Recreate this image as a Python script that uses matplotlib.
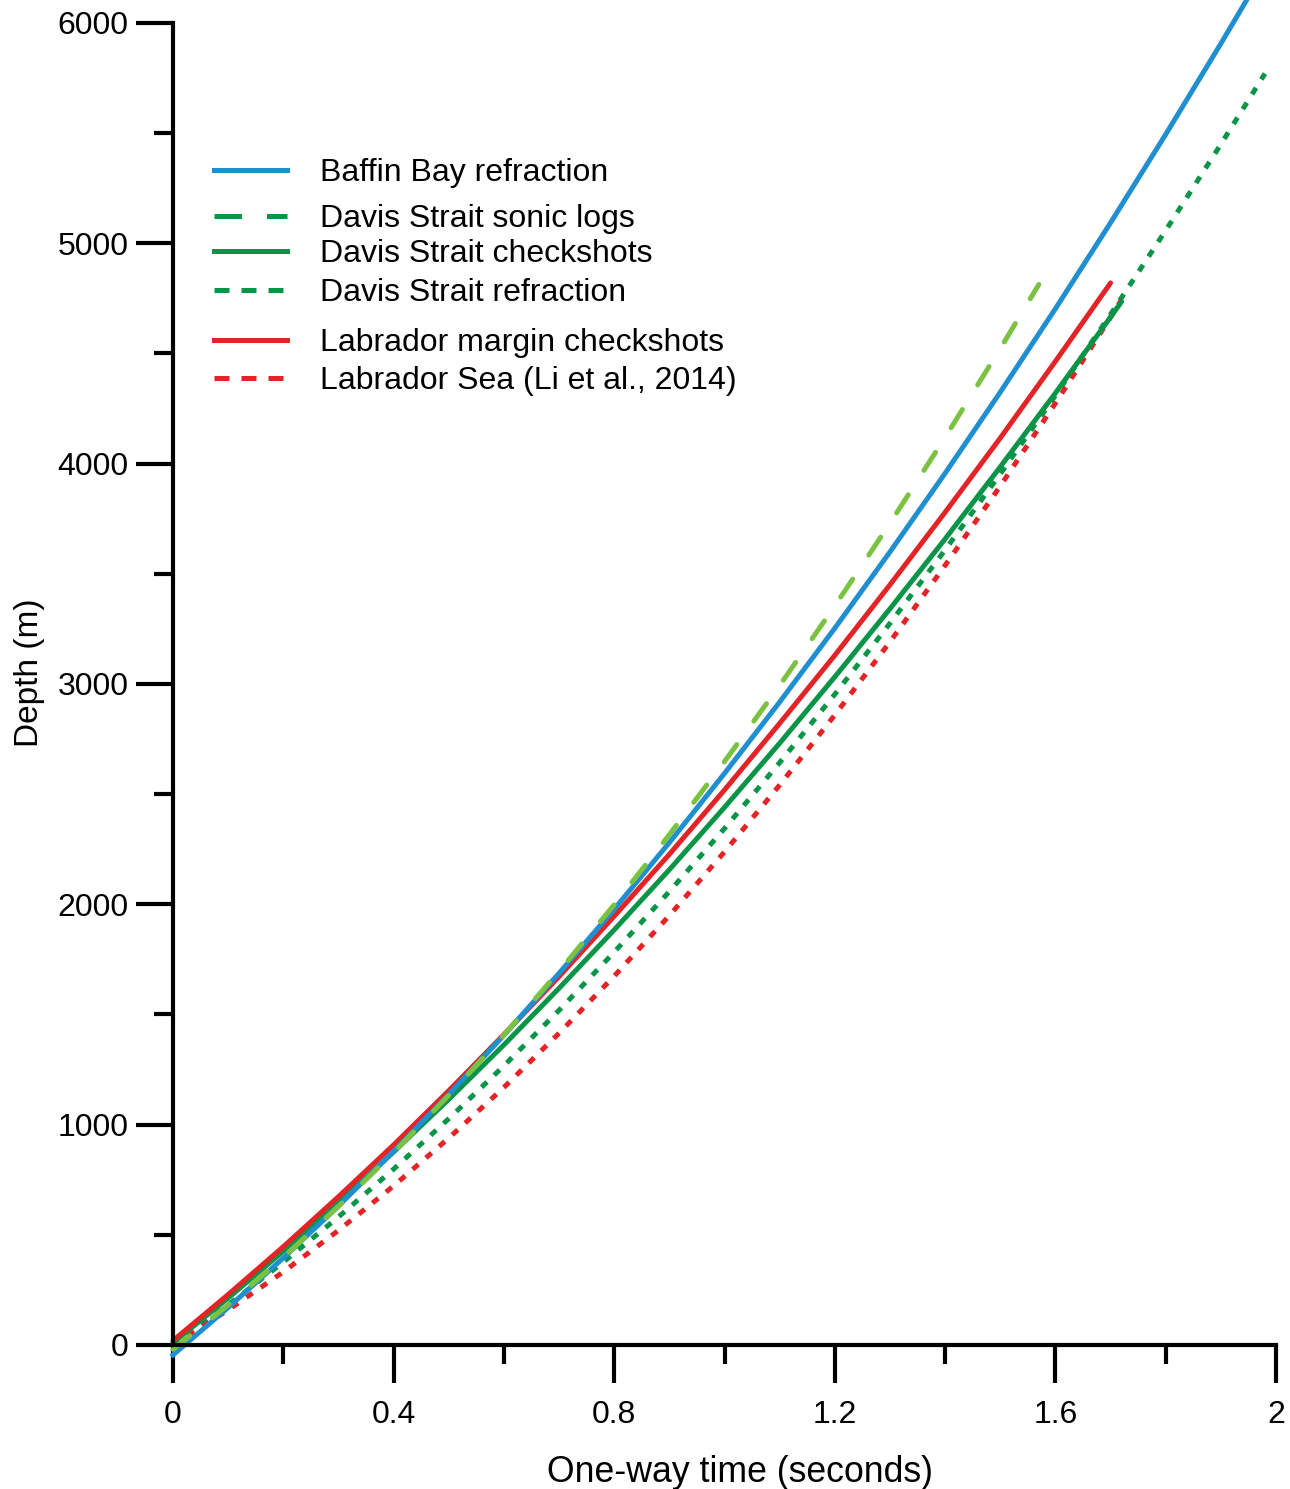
import numpy as np
import matplotlib
matplotlib.use("Agg")
import matplotlib.pyplot as plt
from matplotlib.lines import Line2D

plt.rcParams['font.family'] = ['Liberation Sans', 'DejaVu Sans']

# one-way time (s) and depth (m)
t_baffin = [0, 0.1, 0.2, 0.3, 0.4, 0.5, 0.6, 0.7, 0.8, 0.9, 1.0, 1.1, 1.2, 1.3, 1.4, 1.5, 1.6, 1.7, 1.8, 1.9, 2.0]
d_baffin = [-45, 170, 395, 631, 879, 1137, 1406, 1687, 1978, 2280, 2594, 2918, 3253, 3599, 3956, 4324, 4703, 5093, 5494, 5906, 6329]

t_sonic = [0, 0.1, 0.2, 0.3, 0.4, 0.5, 0.6, 0.7, 0.8, 0.9, 1.0, 1.1, 1.2, 1.3, 1.4, 1.5, 1.57]
d_sonic = [-20, 182, 398, 629, 873, 1133, 1407, 1696, 1998, 2316, 2648, 2993, 3354, 3729, 4119, 4522, 4813]

t_davis_cs = [0, 0.1, 0.2, 0.3, 0.4, 0.5, 0.6, 0.7, 0.8, 0.9, 1.0, 1.1, 1.2, 1.3, 1.4, 1.5, 1.6, 1.7, 1.72]
d_davis_cs = [10, 213, 426, 647, 876, 1115, 1362, 1619, 1884, 2157, 2440, 2731, 3032, 3341, 3658, 3985, 4320, 4665, 4735]

t_davis_rf = [0, 0.1, 0.2, 0.3, 0.4, 0.5, 0.6, 0.7, 0.8, 0.9, 1.0, 1.1, 1.2, 1.3, 1.4, 1.5, 1.6, 1.7, 1.8, 1.9, 1.98]
d_davis_rf = [0, 182, 376, 581, 798, 1027, 1267, 1519, 1783, 2058, 2344, 2643, 2953, 3275, 3608, 3953, 4309, 4677, 5058, 5449, 5770]

t_lab_cs = [0, 0.1, 0.2, 0.3, 0.4, 0.5, 0.6, 0.7, 0.8, 0.9, 1.0, 1.1, 1.2, 1.3, 1.4, 1.5, 1.6, 1.7]
d_lab_cs = [20, 229, 446, 673, 908, 1154, 1409, 1672, 1946, 2227, 2519, 2821, 3130, 3450, 3779, 4116, 4464, 4820]

t_lab_sea = [0, 0.1, 0.2, 0.3, 0.4, 0.5, 0.6, 0.7, 0.8, 0.9, 1.0, 1.1, 1.2, 1.3, 1.4, 1.5, 1.6, 1.7, 1.72]
d_lab_sea = [0, 159, 332, 520, 722, 939, 1169, 1415, 1674, 1949, 2238, 2541, 2859, 3191, 3538, 3898, 4274, 4664, 4744]

labels = ["Baffin Bay refraction", "Davis Strait sonic logs", "Davis Strait checkshots",
          "Davis Strait refraction", "Labrador margin checkshots", "Labrador Sea (Li et al., 2014)"]

blue = '#1f8fd0'
dkgreen = '#0a9447'
ltgreen = '#7cc242'
red = '#e42327'

W, H = 1290, 1489
fig = plt.figure(figsize=(W / 100, H / 100), dpi=100)
ax = fig.add_axes([173 / W, 1 - 1345 / H, 1 - 173 / W, 1345 / H])

lw = 3.6
ax.plot(t_davis_rf, d_davis_rf, color=dkgreen, lw=lw, dashes=(1.5, 2.0), dash_capstyle='butt', clip_on=False)
ax.plot(t_lab_sea, d_lab_sea, color=red, lw=lw, dashes=(1.5, 2.0), dash_capstyle='butt', clip_on=False)
ax.plot(t_davis_cs, d_davis_cs, color=dkgreen, lw=lw, solid_capstyle='round', clip_on=False)
ax.plot(t_lab_cs, d_lab_cs, color=red, lw=lw, solid_capstyle='round', clip_on=False)
ax.plot(t_baffin, d_baffin, color=blue, lw=lw, clip_on=False)
ax.plot(t_sonic, d_sonic, color=ltgreen, lw=lw, dashes=(4.3, 5.8), dash_capstyle='round', clip_on=False)

ax.set_xlim(0, (W - 173) / 551.5)
ax.set_ylim(0, 1345 / 0.22035)

for s in ['top', 'right']:
    ax.spines[s].set_visible(False)
ax.spines['left'].set_bounds(0, 6000)
ax.spines['bottom'].set_bounds(0, 2)
ax.spines['left'].set_linewidth(3)
ax.spines['bottom'].set_linewidth(3)

ax.set_xticks([0, 0.4, 0.8, 1.2, 1.6, 2.0])
ax.set_xticklabels(["0", "0.4", "0.8", "1.2", "1.6", "2"])
ax.set_xticks([0.2, 0.6, 1.0, 1.4, 1.8], minor=True)
ax.set_yticks([0, 1000, 2000, 3000, 4000, 5000, 6000])
ax.set_yticks([500, 1500, 2500, 3500, 4500, 5500], minor=True)
ax.tick_params(which='major', length=27, width=3, direction='out', labelsize=23)
ax.tick_params(which='minor', length=14, width=3, direction='out')
ax.tick_params(axis='x', which='major', pad=12.5)
ax.tick_params(axis='y', which='major', pad=5)

ax.set_xlabel("One-way time (seconds)", fontsize=25.7, labelpad=18)
ax.xaxis.label.set_x((740 - 173) / (W - 173))
ax.set_ylabel("Depth (m)", fontsize=24, labelpad=9)

# legend drawn by hand to keep the uneven row spacing
rows = [170, 216, 251, 290, 340, 378]
styles = [dict(color=blue), dict(color=dkgreen, dashes=(5.5, 5.0)), dict(color=dkgreen),
          dict(color=dkgreen, dashes=(3.0, 2.4)), dict(color=red), dict(color=red, dashes=(3.0, 2.4))]
for lab, py, st in zip(labels, rows, styles):
    fy = 1 - py / H
    fig.add_artist(Line2D([214 / W, 287 / W], [fy, fy], lw=lw, dash_capstyle='butt', **st))
    fig.text(320 / W, 1 - (py + 3) / H, lab, fontsize=23, va='center')

fig.savefig("out.png", dpi=100)
